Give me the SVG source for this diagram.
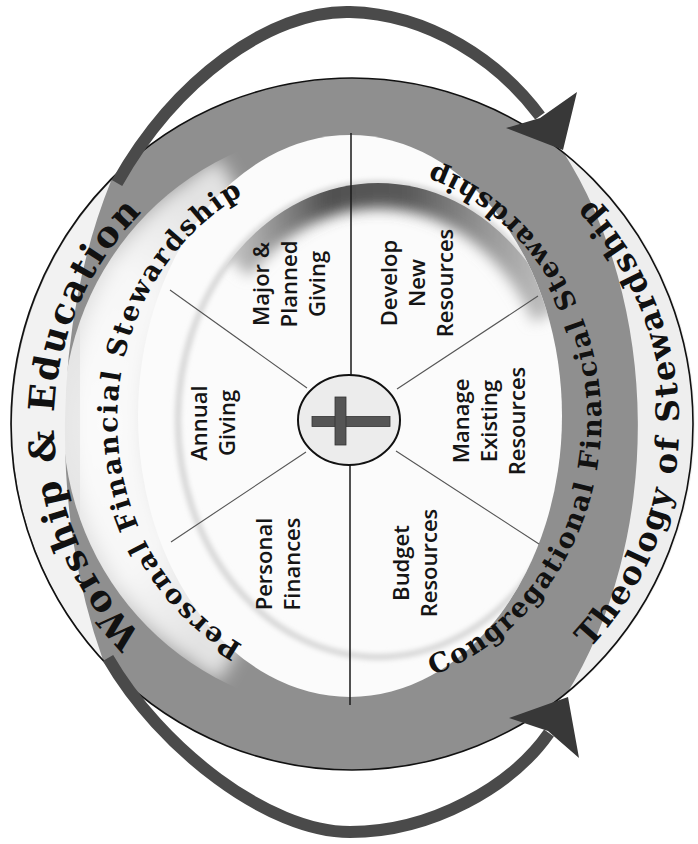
<svg xmlns="http://www.w3.org/2000/svg" width="698" height="844" viewBox="0 0 698 844">
<style>
.ring { font-family: "DejaVu Serif", "Liberation Serif", serif; font-weight: bold; fill: #111; }
.outerL { font-size: 36px; }
.outerR { font-size: 32px; }
.inner { font-size: 27px; }
.lbl { font-family: "Open Sans", "Noto Sans", "Liberation Sans", sans-serif; font-weight: 600; font-size: 22px; fill: #151515; text-anchor: middle; }
.div { stroke: #1a1a1a; stroke-width: 1.5; fill: none; }
.diag { stroke: #555; stroke-width: 1.1; fill: none; }
.shaft { fill: none; stroke: #4a4a4a; stroke-width: 12; }
.head { fill: #383838; }
</style>
<defs>
  <path id="pOuterL" d="M 203,682.1 A 298 298 0 0 1 203,165.9"/>
  <path id="pOuterR" d="M 515.5,707.2 A 327 327 0 0 0 515.5,140.8"/>
  <path id="pInnerL" d="M 310.4,670.1 A 234 254 0 0 1 310.4,169.9"/>
  <path id="pInnerR" d="M 372.8,689 A 250 270 0 0 0 372.8,151"/>
  <clipPath id="lightClip"><ellipse cx="351" cy="420" rx="288" ry="292"/></clipPath>
  <clipPath id="sectorClip"><ellipse cx="350" cy="416" rx="212" ry="281"/></clipPath>
  <clipPath id="plateClip"><ellipse cx="378" cy="420" rx="200" ry="237"/></clipPath>
  <radialGradient id="leftLight" cx="0.5" cy="0.5" r="0.5">
    <stop offset="0" stop-color="#fff" stop-opacity="0.85"/>
    <stop offset="0.55" stop-color="#fff" stop-opacity="0.7"/>
    <stop offset="1" stop-color="#fff" stop-opacity="0"/>
  </radialGradient>
  <linearGradient id="shadowGrad" gradientUnits="userSpaceOnUse" x1="230" y1="0" x2="556" y2="0">
    <stop offset="0" stop-color="#c8c8c8"/>
    <stop offset="0.3" stop-color="#505050"/>
    <stop offset="0.55" stop-color="#5a5a5a"/>
    <stop offset="0.8" stop-color="#9a9a9a"/>
    <stop offset="1" stop-color="#c4c4c4"/>
  </linearGradient>
  <filter id="blur" x="-20%" y="-20%" width="140%" height="140%"><feGaussianBlur stdDeviation="7"/></filter>
  <filter id="blur2" x="-10%" y="-10%" width="120%" height="120%"><feGaussianBlur stdDeviation="2.5"/></filter>
  <filter id="blur3" x="-20%" y="-20%" width="140%" height="140%"><feGaussianBlur stdDeviation="9"/></filter>
</defs>

<g id="wheel">
  <ellipse cx="352" cy="424" rx="341" ry="346" fill="#8f8f8f"/>
  <g clip-path="url(#lightClip)">
    <ellipse cx="100" cy="425" rx="150" ry="290" fill="url(#leftLight)"/>
    <path d="M 236,651.3 A 245 262 0 0 1 236,188.7" fill="none" stroke="#fff" stroke-opacity="0.75" stroke-width="70" filter="url(#blur3)"/>
  </g>
  <path id="lune-left" d="M 111,181 A 341 346 0 0 0 103,660 A 287 460 0 0 1 111,181 Z" fill="#f2f2f2"/>
  <path id="lune-right" d="M 562,150 A 341 346 0 0 1 566,695 A 287 407 0 0 0 562,150 Z" fill="#eeeeee"/>
  <ellipse cx="352" cy="424" rx="341" ry="346" fill="none" stroke="#111" stroke-width="1.6"/>
  <ellipse cx="350" cy="416" rx="212" ry="281" fill="#fbfbfb"/>
  <g clip-path="url(#sectorClip)">
    <ellipse cx="378" cy="420" rx="200" ry="237" fill="none" stroke="#d6d6d6" stroke-width="6" filter="url(#blur2)"/>
    <g clip-path="url(#plateClip)">
      <path d="M 230,261 A 200 237 0 0 1 556,312" fill="none" stroke="url(#shadowGrad)" stroke-width="50" filter="url(#blur)"/>
    </g>
  </g>
</g>

<g id="dividers">
  <path class="div" d="M351,133 V375 M350,465 V705"/>
  <path class="diag" d="M307,388 L170,290 M306,452 L171,542 M397,389 L538,296 M396,451 L539,544"/>
</g>

<g id="center">
  <ellipse cx="349" cy="420" rx="51" ry="45" fill="#ececec" stroke="#111" stroke-width="2"/>
  <rect x="312" y="416.5" width="78" height="10" fill="#555" stroke="#333" stroke-width="0.8"/>
  <rect x="335" y="397" width="11" height="48" fill="#555" stroke="#333" stroke-width="0.8"/>
</g>

<g id="sector-major"><text class="lbl" transform="translate(269,284) rotate(-90)"><tspan x="0" y="0">Major &amp;</tspan><tspan x="0" y="28">Planned</tspan><tspan x="0" y="56">Giving</tspan></text></g>
<g id="sector-develop"><text class="lbl" transform="translate(397,283) rotate(-90)"><tspan x="0" y="0">Develop</tspan><tspan x="0" y="28">New</tspan><tspan x="0" y="56">Resources</tspan></text></g>
<g id="sector-annual"><text class="lbl" transform="translate(207,423) rotate(-90)"><tspan x="0" y="0">Annual</tspan><tspan x="0" y="28">Giving</tspan></text></g>
<g id="sector-manage"><text class="lbl" transform="translate(469,421) rotate(-90)"><tspan x="0" y="0">Manage</tspan><tspan x="0" y="28">Existing</tspan><tspan x="0" y="56">Resources</tspan></text></g>
<g id="sector-personal"><text class="lbl" transform="translate(272,564) rotate(-90)"><tspan x="0" y="0">Personal</tspan><tspan x="0" y="28">Finances</tspan></text></g>
<g id="sector-budget"><text class="lbl" transform="translate(409,563) rotate(-90)"><tspan x="0" y="0">Budget</tspan><tspan x="0" y="28">Resources</tspan></text></g>

<g id="ring-personal"><text class="ring inner" text-anchor="middle"><textPath href="#pInnerL" startOffset="50%" textLength="540" lengthAdjust="spacing">Personal Financial Stewardship</textPath></text></g>
<g id="ring-congregational"><text class="ring inner" text-anchor="middle"><textPath href="#pInnerR" startOffset="50%" textLength="650" lengthAdjust="spacing">Congregational Financial Stewardship</textPath></text></g>
<g id="ring-worship"><text class="ring outerL" text-anchor="middle"><textPath href="#pOuterL" startOffset="50%" textLength="470" lengthAdjust="spacing">Worship &amp; Education</textPath></text></g>
<g id="ring-theology"><text class="ring outerR" text-anchor="middle"><textPath href="#pOuterR" startOffset="50%" textLength="495" lengthAdjust="spacing">Theology of Stewardship</textPath></text></g>

<g id="connectors">
  <path class="shaft" d="M 117,183 C 175,80 270,10 350,12 C 430,14 500,62 540,116"/>
  <polygon class="head" points="563,150 506,128 540,118 577,92"/>
  <path class="shaft" d="M 108,658 C 160,748 268,832 350,832 C 432,832 512,786 549,733"/>
  <polygon class="head" points="568,697 509,718 548,731 579,758"/>
</g>
</svg>
